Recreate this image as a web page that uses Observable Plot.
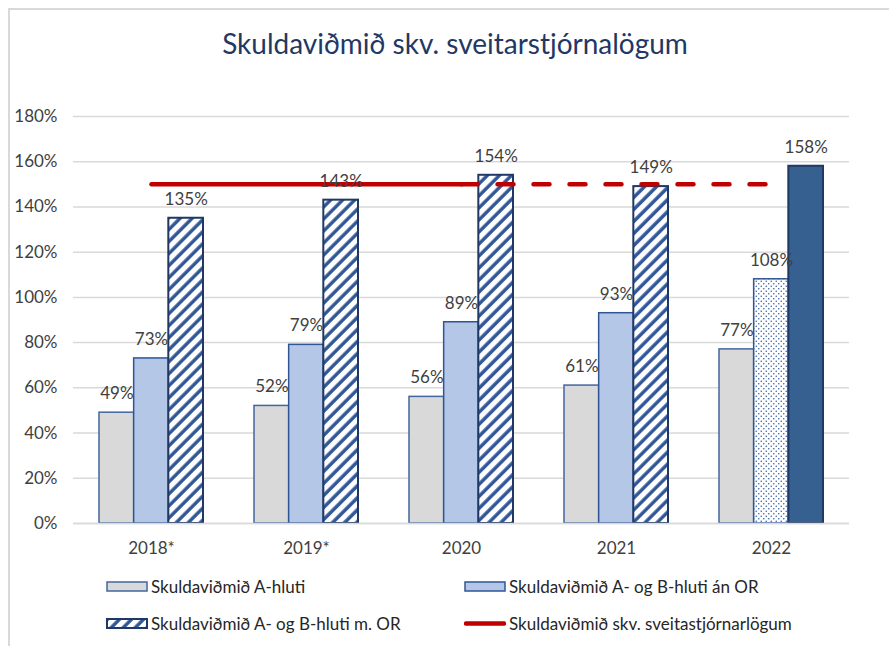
<!DOCTYPE html>
<html>
<head>
<meta charset="utf-8">
<script src="https://cdn.jsdelivr.net/npm/d3@7"></script>
<script src="https://cdn.jsdelivr.net/npm/@observablehq/plot@0.6"></script>
<style>
  html, body { margin: 0; padding: 0; background: #fff; }
  #wrap { position: relative; width: 889px; height: 646px; overflow: hidden; font-family: Lato, "Open Sans", sans-serif; }
  #frame { position: absolute; left: 8px; top: 8px; width: 900px; height: 700px; border-left: 2px solid #d9d9d9; border-top: 2px solid #d9d9d9; }
  #title { position: absolute; left: 0; width: 910px; top: 26px; text-align: center; font-size: 28px; color: #1f3864; white-space: nowrap; }
  #chart { position: absolute; left: 0; top: 95px; }
  .leg { position: absolute; display: flex; align-items: center; font-size: 17px; color: #262626; white-space: nowrap; }
  .leg svg { margin-right: 3px; }
</style>
</head>
<body>
<svg width="0" height="0" style="position:absolute">
  <defs>
    <pattern id="hatch" patternUnits="userSpaceOnUse" width="8.5" height="8.5" patternTransform="rotate(45)">
      <rect width="8.5" height="8.5" fill="#ffffff"></rect>
      <line x1="2" y1="0" x2="2" y2="8.5" stroke="#2f5597" stroke-width="3.4"></line>
    </pattern>
    <pattern id="dots" patternUnits="userSpaceOnUse" width="5" height="5">
      <rect width="5" height="5" fill="#ffffff"></rect>
      <circle cx="1.25" cy="1.25" r="0.8" fill="#3b65a8"></circle>
      <circle cx="3.75" cy="3.75" r="0.8" fill="#3b65a8"></circle>
    </pattern>
  </defs>
</svg>
<div id="wrap">
  <div id="frame"></div>
  <div id="title">Skuldaviðmið skv. sveitarstjórnalögum</div>
  <div id="chart"></div>
  <div id="legend"></div>
</div>
<script>
const years = ["2018*", "2019*", "2020", "2021", "2022"];
const seriesA = [0.49, 0.52, 0.56, 0.61, 0.77];
const seriesB = [0.73, 0.79, 0.89, 0.93, 1.08];
const seriesC = [1.35, 1.43, 1.54, 1.49, 1.58];
const limitSolidYears = ["2018*", "2019*", "2020"];
const limitDashedYears = ["2020", "2021", "2022"];
const limitValue = 1.5;
const yTicks = [0, 0.2, 0.4, 0.6, 0.8, 1.0, 1.2, 1.4, 1.6, 1.8];
const legendLabels = [
  "Skuldaviðmið A-hluti",
  "Skuldaviðmið A- og B-hluti án OR",
  "Skuldaviðmið A- og B-hluti m. OR",
  "Skuldaviðmið skv. sveitastjórnarlögum"
];

const dataA = years.map((year, i) => ({year, value: seriesA[i]}));
const dataB = years.map((year, i) => ({year, value: seriesB[i]}));
const dataC = years.map((year, i) => ({year, value: seriesC[i]}));
const solid = limitSolidYears.map(year => ({year, value: limitValue}));
const dashed = limitDashedYears.map(year => ({year, value: limitValue}));

const W = 889, H = 470, mL = 73, mR = 40, mT = 21, mB = 42;
const pInner = 0.33, pOuter = 0.165;
const step = (W - mL - mR) / (years.length - pInner + 2 * pOuter);
const third = step * (1 - pInner) / 3;
const fmt = d3.format(".0%");
const textColor = "#404040";
const last = "2022";
const fs = 17;

const chart = Plot.plot({
  width: W, height: H,
  marginLeft: mL, marginRight: mR, marginTop: mT, marginBottom: mB,
  style: {fontFamily: "Lato, 'Open Sans', sans-serif", fontSize: fs + "px", color: textColor, background: "transparent"},
  x: {domain: years, paddingInner: pInner, paddingOuter: pOuter, label: null},
  y: {domain: [0, 1.8], label: null},
  marks: [
    Plot.gridY(yTicks, {stroke: "#d9d9d9", strokeOpacity: 1, strokeWidth: 1.5}),
    Plot.axisY({ticks: yTicks, tickFormat: fmt, tickSize: 0, tickPadding: 16, fontSize: fs, label: null}),
    Plot.axisX({tickSize: 0, tickPadding: 18, fontSize: fs, label: null}),
    Plot.barY(dataA, {x: "year", y: "value", fill: "#d9d9d9", stroke: "#41679e", strokeWidth: 1.5, insetLeft: 0, insetRight: 2 * third}),
    Plot.barY(dataB.filter(d => d.year !== last), {x: "year", y: "value", fill: "#b4c7e7", stroke: "#2f5597", strokeWidth: 1.5, insetLeft: third, insetRight: third}),
    Plot.barY(dataB.filter(d => d.year === last), {x: "year", y: "value", fill: "url(#dots)", stroke: "#2f5597", strokeWidth: 1.5, insetLeft: third, insetRight: third}),
    Plot.barY(dataC.filter(d => d.year !== last), {x: "year", y: "value", fill: "url(#hatch)", stroke: "#1f3864", strokeWidth: 2, insetLeft: 2 * third, insetRight: 0}),
    Plot.barY(dataC.filter(d => d.year === last), {x: "year", y: "value", fill: "#35608f", stroke: "#1f3864", strokeWidth: 2, insetLeft: 2 * third, insetRight: 0}),
    Plot.ruleY([0], {stroke: "#d9d9d9", strokeWidth: 1.5}),
    Plot.line(solid, {x: "year", y: "value", stroke: "#c00000", strokeWidth: 4.5, strokeLinecap: "round"}),
    Plot.line(dashed, {x: "year", y: "value", stroke: "#c00000", strokeWidth: 4.5, strokeLinecap: "round", strokeDasharray: "16,20"}),
    Plot.text(dataA, {x: "year", y: "value", text: d => fmt(d.value), dx: -third, dy: -19, fill: textColor, fontSize: fs}),
    Plot.text(dataB, {x: "year", y: "value", text: d => fmt(d.value), dx: 0, dy: -19, fill: textColor, fontSize: fs}),
    Plot.text(dataC, {x: "year", y: "value", text: d => fmt(d.value), dx: third, dy: -19, fill: textColor, fontSize: fs})
  ]
});
document.getElementById("chart").appendChild(chart);

const swatches = [
  `<rect x="1" y="1" width="40" height="9" fill="#d9d9d9" stroke="#41679e" stroke-width="1.5"/>`,
  `<rect x="1" y="1" width="40" height="9" fill="#b4c7e7" stroke="#2f5597" stroke-width="1.5"/>`,
  `<rect x="1" y="1" width="40" height="9" fill="url(#hatch)" stroke="#1f3864" stroke-width="2"/>`,
  `<line x1="2" y1="5.5" x2="40" y2="5.5" stroke="#c00000" stroke-width="4.5" stroke-linecap="round"/>`
];
const legPos = [[106, 586], [464, 586], [106, 623], [464, 623]];
const legend = document.getElementById("legend");
legendLabels.forEach((lab, i) => {
  const el = document.createElement("div");
  el.className = "leg";
  el.style.left = legPos[i][0] + "px";
  el.style.top = (legPos[i][1] - 11) + "px";
  el.style.height = "22px";
  el.innerHTML = `<svg width="42" height="11">${swatches[i]}</svg><span>${lab}</span>`;
  legend.appendChild(el);
});
</script>
</body>
</html>
